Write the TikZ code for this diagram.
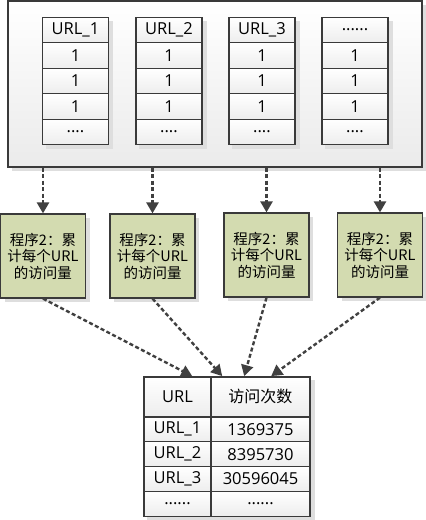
\documentclass[tikz,border=0pt]{standalone}
\usepackage{fontspec}
\setmainfont{Open Sans}
\newfontfamily\cjk{Noto Sans CJK SC}
\usetikzlibrary{matrix,positioning,calc,shadows,arrows.meta}
\definecolor{boxline}{HTML}{3A3A3A}
\definecolor{flowgray}{HTML}{404040}
\definecolor{progfill}{HTML}{D3DBB0}
\definecolor{shadegray}{HTML}{DEDEDE}
\tikzset{
  cellfont/.style={font=\fontsize{16.5}{19}\selectfont},
  shade/.style={drop shadow={shadow xshift=4pt, shadow yshift=-4pt, fill=shadegray, opacity=1}},
  tbl/.style={matrix of nodes, inner sep=0pt, shade,
    nodes={draw=boxline, line width=1.2pt, anchor=center, minimum width=#1,
           minimum height=25.5pt, top color=white, bottom color=black!7, cellfont},
    row sep=-1.2pt, column sep=-1.2pt},
  tbl/.default=66pt,
  srcbox/.style={draw=boxline, line width=1.2pt, top color=white, bottom color=black!8,
    minimum width=414pt, minimum height=166pt, shade},
  prog/.style={draw=boxline, line width=1.2pt, fill=progfill, minimum width=85pt,
    minimum height=84pt, align=center, font=\cjk\fontsize{14.5}{16.5}\selectfont, shade},
  flow/.style={flowgray, line width=2.4pt, dash pattern=on 4pt off 2.5pt,
    -{Triangle[width=12pt,length=11pt]}},
}

\begin{document}
\begin{tikzpicture}[x=1pt,y=-1pt]
\useasboundingbox (0,0) rectangle (426,520);

% ===== input: one column of 1s per URL =====
\node[srcbox] (src) at (215,84) {};

\matrix[tbl] (u1) at (75.5,81) { URL\_1 \\ 1 \\ 1 \\ 1 \\ .... \\ };
\matrix[tbl] (u2) at (169,81)  { URL\_2 \\ 1 \\ 1 \\ 1 \\ .... \\ };
\matrix[tbl] (u3) at (262,81)  { URL\_3 \\ 1 \\ 1 \\ 1 \\ .... \\ };
\matrix[tbl] (u4) at (355,81)  { ...... \\ 1 \\ 1 \\ 1 \\ .... \\ };

% ===== program 2 instances =====
\node[prog] (p1) at (43,256)    {程序2：累\\计每个URL\\的访问量};
\node[prog] (p2) at (152.5,256) {程序2：累\\计每个URL\\的访问量};
\node[prog] (p3) at (266.5,255) {程序2：累\\计每个URL\\的访问量};
\node[prog] (p4) at (380,255)   {程序2：累\\计每个URL\\的访问量};

\foreach \p in {p1,p2,p3,p4}
  { \draw[flow] (\p.north |- src.south) -- (\p.north); }

% ===== result table =====
\matrix[tbl, nodes={minimum height=24.8pt},
  column 1/.style={nodes={minimum width=67pt}},
  column 2/.style={nodes={minimum width=99pt}},
  row 1/.style={nodes={minimum height=40pt}}] (cnt) at (227,446.5)
  { URL    & {\cjk\fontsize{16}{19}\selectfont 访问次数} \\
    URL\_1 & 1369375 \\
    URL\_2 & 8395730 \\
    URL\_3 & 30596045 \\
    ...... & ...... \\ };

\draw[flow] (p1.south) -- ([xshift=49pt]cnt.north west);
\draw[flow] (p2.south) -- ([xshift=79pt]cnt.north west);
\draw[flow] (p3.south) -- ([xshift=101pt]cnt.north west);
\draw[flow] (p4.south) -- ([xshift=128pt]cnt.north west);

\end{tikzpicture}
\end{document}
